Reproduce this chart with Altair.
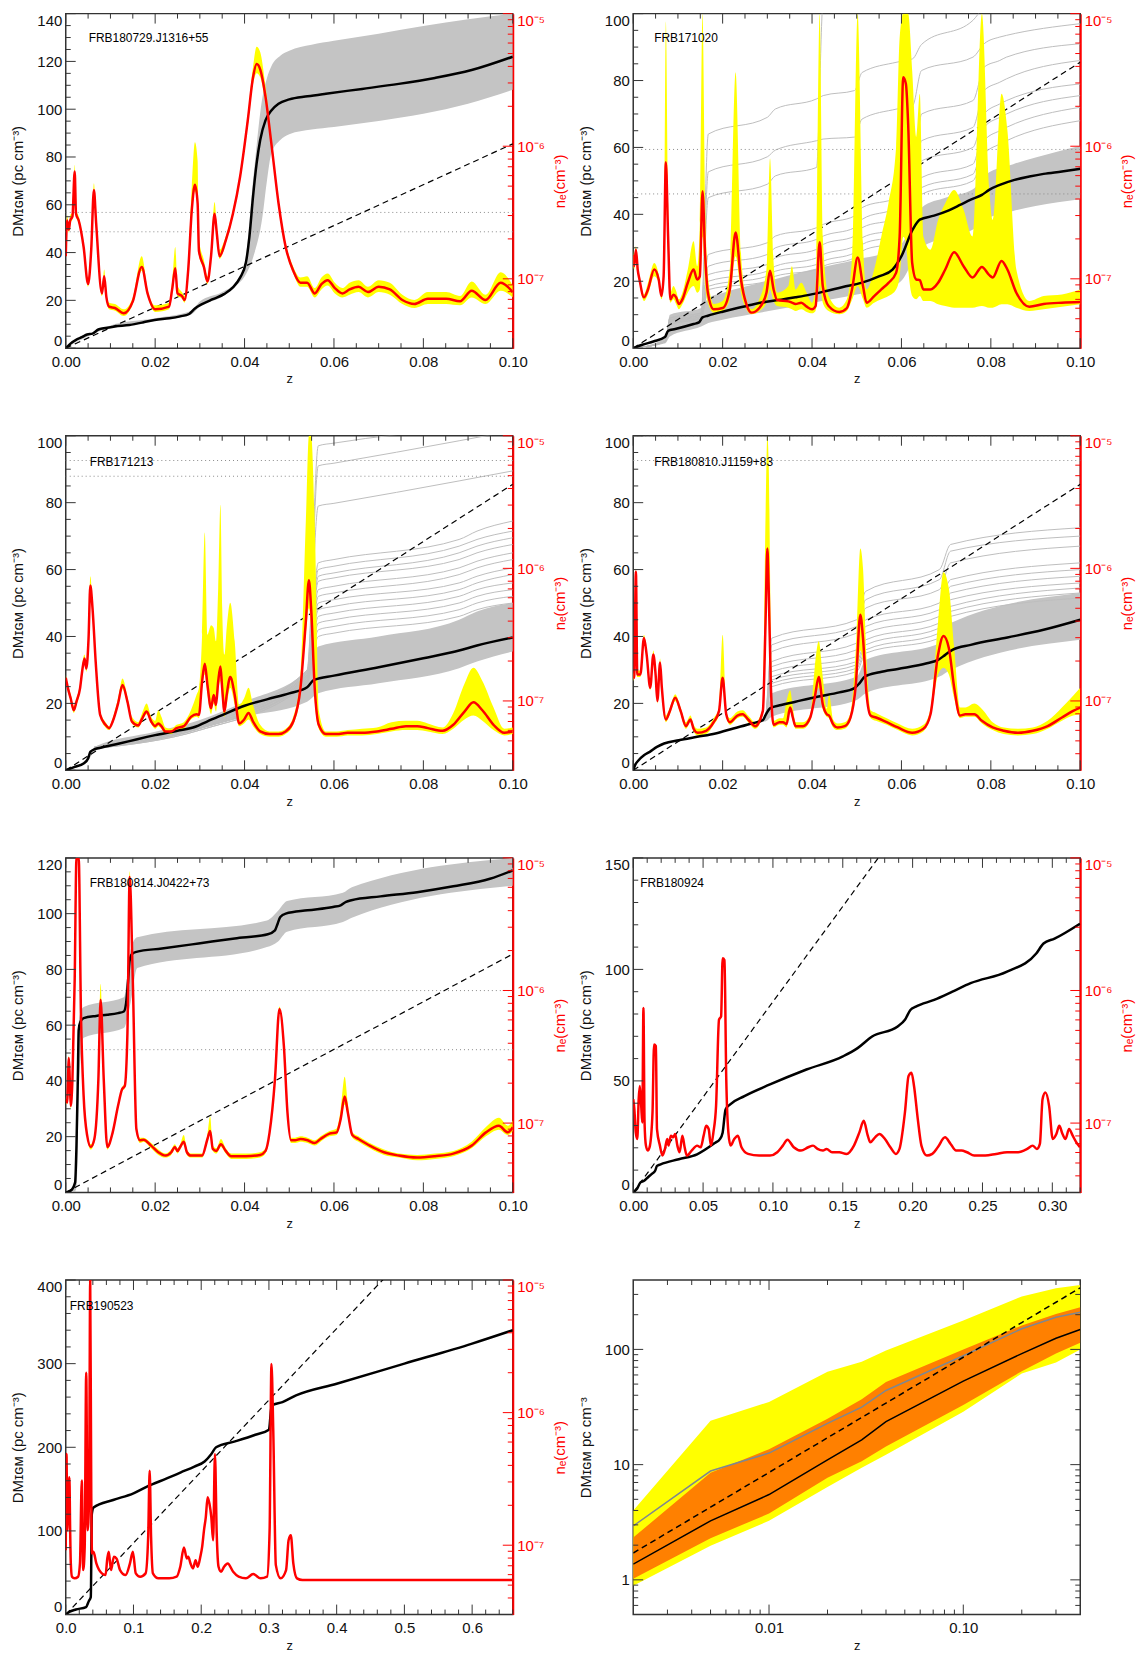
import altair as alt
import numpy as np
import pandas as pd

FONT = "Liberation Sans"
W, H = 449, 336
HGAP, VGAP = 121, 88
FRAME = "#333333"
RED = "#ff0000"
YELLOW = "#ffff00"
ORANGE = "#ff8000"
BAND = "#c4c4c4"
GLINE = "#bdbdbd"
TMAJ, TMIN = 10, 5
SMOOTH = "monotone"

DM_TITLE = "DMɪɢᴍ  (pc  cm⁻³)"
DM_TITLE8 = "DMɪɢᴍ  pc  cm⁻³"
NE_TITLE = "nₑ(cm⁻³)"
NE_LABEL = "datum.value < 5e-7 ? '10⁻⁷' : (datum.value < 5e-6 ? '10⁻⁶' : '10⁻⁵')"
NE_DOMAIN = [3e-8, 1e-5]
NE_MAJOR = [1e-7, 1e-6, 1e-5]
NE_MINOR = [4e-8, 5e-8, 6e-8, 7e-8, 8e-8, 9e-8, 2e-7, 3e-7, 4e-7, 5e-7, 6e-7, 7e-7,
            8e-7, 9e-7, 2e-6, 3e-6, 4e-6, 5e-6, 6e-6, 7e-6, 8e-6, 9e-6]
DM_SLOPE = 855.0  # dashed reference relation DM = 855 z

# ---------------- FRB180729.J1316+55 ----------------
p1_z = [0, 0.0003, 0.0007, 0.001, 0.0015, 0.002, 0.0023, 0.0029, 0.004, 0.005, 0.0057, 0.0063, 0.0068,
        0.0081, 0.0086, 0.0091, 0.0097, 0.011, 0.013, 0.015, 0.017, 0.0183, 0.020, 0.0231, 0.0238, 0.0245,
        0.025, 0.026, 0.0266, 0.0274, 0.0282, 0.0289, 0.0295, 0.0298, 0.0309, 0.0317, 0.0325, 0.0333, 0.0338,
        0.0344, 0.0358, 0.0374, 0.039, 0.0407, 0.0419, 0.0427, 0.0435, 0.0447, 0.046, 0.0476, 0.0492, 0.0509,
        0.0525, 0.054, 0.0557, 0.0572, 0.0586, 0.0602, 0.0619, 0.0635, 0.0655, 0.0676, 0.070, 0.0725, 0.0753,
        0.078, 0.081, 0.0851, 0.0882, 0.0908, 0.0939, 0.0973, 0.1]
p1_red = [-6.83, -6.56, -6.63, -6.56, -6.53, -6.19, -6.51, -6.56, -6.76, -7.04, -6.78, -6.33, -6.58, -7.11,
          -6.98, -7.14, -7.21, -7.22, -7.26, -7.17, -6.91, -7.11, -7.23, -7.21, -7.08, -6.92, -7.11, -7.13,
          -7.16, -6.93, -6.48, -6.29, -6.43, -6.79, -6.91, -7.02, -6.83, -6.51, -6.66, -6.83, -6.71, -6.51,
          -6.23, -5.81, -5.48, -5.38, -5.42, -5.63, -5.98, -6.43, -6.76, -6.94, -7.03, -7.03, -7.11, -7.04,
          -7.01, -7.07, -7.11, -7.08, -7.06, -7.10, -7.06, -7.08, -7.16, -7.19, -7.15, -7.15, -7.17, -7.09,
          -7.16, -7.03, -7.10]
p1_yhi = [-6.80, -6.52, -6.60, -6.52, -6.50, -6.14, -6.48, -6.53, -6.73, -7.01, -6.75, -6.28, -6.55, -7.08,
          -6.93, -7.11, -7.18, -7.19, -7.23, -7.14, -6.83, -7.08, -7.20, -7.18, -7.02, -6.76, -7.05, -7.10,
          -7.13, -6.88, -6.30, -5.97, -6.11, -6.70, -6.86, -6.98, -6.78, -6.42, -6.60, -6.78, -6.68, -6.48,
          -6.20, -5.77, -5.40, -5.25, -5.29, -5.55, -5.93, -6.40, -6.73, -6.91, -6.99, -6.98, -7.07, -6.99,
          -6.96, -7.03, -7.07, -7.03, -7.01, -7.06, -7.01, -7.03, -7.12, -7.16, -7.10, -7.10, -7.13, -7.02,
          -7.12, -6.95, -7.05]
p1_ylo = [-6.85, -6.58, -6.65, -6.58, -6.55, -6.22, -6.53, -6.58, -6.78, -7.06, -6.80, -6.36, -6.60, -7.13,
          -7.00, -7.16, -7.23, -7.24, -7.28, -7.19, -6.94, -7.13, -7.25, -7.23, -7.10, -6.95, -7.13, -7.15,
          -7.18, -6.95, -6.52, -6.34, -6.47, -6.82, -6.93, -7.04, -6.85, -6.55, -6.69, -6.85, -6.73, -6.53,
          -6.26, -5.85, -5.53, -5.45, -5.48, -5.68, -6.02, -6.46, -6.78, -6.96, -7.06, -7.06, -7.14, -7.08,
          -7.05, -7.11, -7.14, -7.12, -7.10, -7.14, -7.10, -7.12, -7.19, -7.22, -7.19, -7.19, -7.20, -7.14,
          -7.19, -7.09, -7.14]
p1_bz = [0, 0.001, 0.0024, 0.0036, 0.0048, 0.006, 0.0073, 0.0085, 0.011, 0.0142, 0.0174, 0.0199, 0.0232,
         0.0256, 0.0276, 0.0289, 0.0305, 0.0329, 0.0354, 0.0374, 0.039, 0.0403, 0.0411, 0.0419, 0.0427, 0.0435,
         0.0447, 0.046, 0.0476, 0.05, 0.0541, 0.0582, 0.0663, 0.0745, 0.0826, 0.0908, 0.1]
p1_bdm = [0, 1.8, 3.6, 4.6, 5.7, 6.1, 7.8, 8.3, 9.1, 9.7, 10.8, 11.8, 12.5, 13.3, 14.3, 16.6, 18.4, 20.5,
          22.6, 25.4, 29.5, 35.8, 46.9, 63.5, 77.3, 87.1, 95.4, 99.5, 102.3, 104.1, 105.4, 106.5, 108.5, 110.6,
          113.1, 116.4, 122.0]
p1_gz = [0, 0.01, 0.02, 0.028, 0.03, 0.035, 0.038, 0.04, 0.042, 0.044, 0.045, 0.046, 0.048, 0.05, 0.055,
         0.06, 0.07, 0.08, 0.09, 0.1]
p1_glo = [0, 8.7, 11.5, 14, 17.5, 21.5, 26, 30, 38.5, 55, 70, 81.5, 87.1, 89.5, 91.5, 92.6, 95.1, 98.1,
          102.3, 108.1]
p1_ghi = [0, 9.5, 12.5, 15.5, 19.5, 23.5, 27.5, 35, 72, 105, 113, 118, 122.4, 124.5, 127, 128.6, 131.6,
          134.8, 137.6, 140]
p1_dotted = [56.8, 48.7]

# ---------------- FRB171020 ----------------
p2_z = [0, 0.0002, 0.0006, 0.001, 0.0014, 0.0024, 0.0033, 0.0047, 0.0057, 0.0063, 0.0068, 0.0073, 0.0078,
        0.0083, 0.009, 0.0096, 0.0102, 0.011, 0.0122, 0.0135, 0.0143, 0.0149, 0.0155, 0.0161, 0.0167, 0.018,
        0.02, 0.0216, 0.0229, 0.0241, 0.0253, 0.0265, 0.0282, 0.0298, 0.0306, 0.0314, 0.0322, 0.0347, 0.0355,
        0.0363, 0.0376, 0.0388, 0.04, 0.0408, 0.0417, 0.0424, 0.0437, 0.0461, 0.0478, 0.049, 0.0502, 0.0514,
        0.0522, 0.0539, 0.0555, 0.0571, 0.0588, 0.0596, 0.0604, 0.061, 0.0615, 0.0624, 0.0633, 0.0641, 0.0649,
        0.0665, 0.0682, 0.0698, 0.0718, 0.0739, 0.0759, 0.078, 0.0796, 0.0804, 0.0824, 0.0837, 0.0857, 0.0886,
        0.0918, 0.0959, 0.1]
p2_red = [-6.82, -6.905, -6.78, -6.93, -7.005, -7.14, -7.08, -6.93, -7.005, -7.13,
          -6.98, -6.12, -6.68, -7.155, -7.12, -7.14, -7.19, -7.155, -7.03, -6.93,
          -7.005, -6.98, -6.34, -6.83, -7.105, -7.23, -7.22, -7.08, -6.65, -7.005,
          -7.19, -7.255, -7.22, -7.105, -6.94, -7.08, -7.16, -7.17, -7.18, -7.19,
          -7.18, -7.21, -7.23, -7.205, -6.725, -7.055, -7.205, -7.25, -7.22, -7.07,
          -6.84, -7.055, -7.18, -7.13, -7.08, -7.03, -6.955, -6.68, -5.48, -5.53,
          -5.83, -6.88, -7.005, -7.01, -7.08, -7.08, -7.03, -6.93, -6.80, -6.905,
          -6.99, -6.91, -6.97, -6.99, -6.865, -6.93, -7.105, -7.21, -7.19, -7.18, -7.175]
p2_yhi = [-6.78, -6.83, -6.755, -6.905, -6.98, -7.1175, -7.03, -6.88, -6.9675, -7.0925,
          -6.93, -5.06, -6.43, -7.105, -7.055, -7.0925, -7.155, -7.105, -6.93, -6.7175,
          -6.905, -6.58, -5.0, -6.43, -6.98, -7.19, -7.1675, -6.93, -5.4425, -6.805,
          -7.155, -7.23, -7.155, -6.93, -6.0925, -6.88, -7.105, -7.055, -6.905, -7.08,
          -7.03, -7.105, -7.18, -7.055, -5.0, -6.68, -7.13, -7.2175, -7.155, -6.805,
          -5.0, -6.73, -7.08, -6.93, -6.68, -6.43, -6.005, -5.18, -5.0, -5.0,
          -5.0, -5.43, -5.93, -5.605, -6.68, -6.78, -6.555, -6.43, -6.33, -6.48,
          -6.68, -5.0, -6.305, -6.555, -5.605, -5.88, -6.93, -7.1675, -7.13, -7.1175, -7.08]
p2_ylo = [-6.905, -6.93, -6.83, -6.955, -7.03, -7.1675, -7.1175, -6.98, -7.03, -7.155,
          -7.03, -6.33, -6.805, -7.18, -7.155, -7.1925, -7.23, -7.1925, -7.105, -7.055,
          -7.105, -7.08, -6.68, -7.055, -7.18, -7.255, -7.2425, -7.155, -6.83, -7.105,
          -7.23, -7.2675, -7.2425, -7.18, -7.08, -7.1675, -7.205, -7.2175, -7.23, -7.2425,
          -7.23, -7.25, -7.26, -7.2425, -7.055, -7.18, -7.2425, -7.2675, -7.2425, -7.155,
          -7.055, -7.155, -7.2175, -7.18, -7.155, -7.13, -7.08, -6.98, -6.68, -6.73,
          -6.93, -7.13, -7.155, -7.13, -7.1675, -7.1675, -7.1925, -7.205, -7.2175, -7.2175,
          -7.2175, -7.205, -7.2175, -7.2175, -7.1925, -7.1925, -7.2175, -7.2425, -7.23, -7.21, -7.1925]
p2_bz = [0, 0.002, 0.0045, 0.0071, 0.0078, 0.0094, 0.0135, 0.0147, 0.0155, 0.0167, 0.02, 0.0233, 0.0265,
         0.0298, 0.0331, 0.0363, 0.0396, 0.0429, 0.0469, 0.051, 0.0551, 0.058, 0.06, 0.0625, 0.0641, 0.0673,
         0.0706, 0.0731, 0.0755, 0.078, 0.0796, 0.082, 0.0853, 0.0886, 0.0918, 0.0959, 0.1]
p2_bdm = [0, 1.0, 2.0, 3.3, 5.2, 5.7, 7.2, 7.7, 9.2, 9.7, 10.9, 12.0, 13.0, 13.9, 14.5, 15.2, 16.0, 17.0,
          18.3, 19.5, 21.5, 23.5, 27.5, 35.4, 38.4, 39.6, 41.2, 42.8, 44.4, 45.8, 47.3, 48.8, 50.3, 51.3, 52.1,
          52.8, 53.6]
p2_gz = [0, 0.0072, 0.0082, 0.0152, 0.0168, 0.02, 0.03, 0.04, 0.05, 0.058, 0.0605, 0.0625, 0.0645, 0.07,
         0.076, 0.079, 0.085, 0.09, 0.1]
p2_glo = [0, 1.5, 3.5, 6.5, 7.5, 8.5, 11, 13.5, 16, 18.5, 21, 26, 30, 33, 35.5, 38.5, 41, 42.5, 44.5]
p2_ghi = [0, 3, 10, 12, 15, 16.5, 20, 23.5, 26.5, 29.5, 32, 38, 42, 45, 47.5, 52, 55, 57, 60.5]
p2_lz = [0, 0.0072, 0.0082, 0.0152, 0.0168, 0.030, 0.0318, 0.041, 0.0425, 0.0495, 0.0512, 0.059, 0.0625,
         0.0645, 0.076, 0.0785, 0.082, 0.0835, 0.1]
p2_lines = [
    [0, 2, 9, 10.5, 64, 69, 71.5, 74.5, 75.5, 77, 82.4, 85.5, 86.5, 90.8, 98, 102, 104, 105, 110],
    [0, 2, 9, 10.5, 45, 49, 51.5, 54, 104, 106, 108, 110, 112, 114, 116, 118, 120, 122, 125],
    [0, 2, 8.5, 10, 52.7, 57.2, 59.2, 62, 62.5, 63.1, 68.5, 71.5, 72.5, 83, 87, 91, 93, 93.5, 97],
    [0, 2, 8, 10, 28, 31.5, 33.5, 36, 37, 39.5, 42, 45, 48, 70, 74, 84, 86, 87, 91],
    [0, 2, 8, 9.5, 24.5, 28, 30, 32.5, 33.5, 36, 38.5, 42, 45.5, 62, 66, 77, 79.5, 80.5, 86],
    [0, 2, 7.5, 9.5, 22, 25, 27, 29.5, 31, 33.5, 36, 39, 43, 56, 60, 70, 73, 74, 79],
    [0, 2, 7.5, 9, 20, 23, 24.5, 27, 28, 30.5, 33, 36, 41, 51, 55, 66, 69, 70, 75.5],
    [0, 2, 7, 9, 18.5, 21.5, 23, 25, 26, 28.5, 31, 34, 39, 48, 52, 62, 65, 66, 72],
    [0, 2, 7, 9, 17.5, 20, 21.5, 23.5, 24.5, 27, 29, 32, 37.5, 46, 50, 58, 61, 62, 68],
]
p2_dotted = [59.4, 46.1]

# ---------------- FRB171213 ----------------
p3_z = [0, 0.0005, 0.0011, 0.0018, 0.0024, 0.0032, 0.0037, 0.0042, 0.0046, 0.0051, 0.0055, 0.006, 0.0067,
        0.0077, 0.0089, 0.0097, 0.0105, 0.0117, 0.0127, 0.0138, 0.0148, 0.0162, 0.017, 0.0181, 0.0191, 0.02,
        0.0207, 0.0214, 0.0223, 0.0236, 0.0248, 0.0264, 0.028, 0.0293, 0.0298, 0.0305, 0.0311, 0.0317, 0.0325,
        0.0331, 0.0336, 0.0341, 0.0346, 0.035, 0.0355, 0.036, 0.0368, 0.0378, 0.0388, 0.0399, 0.0409, 0.0419,
        0.0435, 0.0456, 0.0476, 0.0492, 0.0509, 0.0525, 0.0537, 0.0544, 0.0549, 0.0557, 0.0566, 0.0582, 0.0606,
        0.0631, 0.0663, 0.0696, 0.0729, 0.0761, 0.0786, 0.081, 0.0843, 0.0867, 0.0892, 0.0912, 0.0932, 0.0957,
        0.0981, 0.1]
p3_red = [-6.825, -6.905, -6.98, -7.07, -7.005, -6.905, -6.77, -6.68, -6.755, -6.53,
          -6.13, -6.305, -6.705, -7.105, -7.18, -7.205, -7.155, -7.02, -6.88, -7.005,
          -7.155, -7.185, -7.14, -7.08, -7.155, -7.19, -7.17, -7.19, -7.23, -7.23,
          -7.205, -7.19, -7.12, -7.10, -7.105, -6.855, -6.72, -6.88, -7.055, -6.955,
          -7.03, -6.855, -6.74, -6.905, -7.08, -6.955, -6.82, -6.955, -7.17, -7.14,
          -7.09, -7.155, -7.23, -7.25, -7.25, -7.23, -7.155, -6.905, -6.405, -6.09,
          -6.305, -6.905, -7.18, -7.25, -7.25, -7.24, -7.24, -7.23, -7.21, -7.19,
          -7.19, -7.205, -7.225, -7.18, -7.08, -7.01, -7.07, -7.18, -7.24, -7.23]
p3_yhi = [-6.80, -6.88, -6.95, -7.04, -6.98, -6.87, -6.72, -6.65, -6.72, -6.49,
          -6.06, -6.26, -6.67, -7.08, -7.16, -7.19, -7.13, -6.98, -6.83, -6.97,
          -7.12, -7.16, -7.10, -7.02, -7.12, -7.15, -7.07, -7.12, -7.20, -7.21,
          -7.18, -7.16, -7.07, -6.95, -6.90, -6.50, -5.73, -6.50, -6.43, -6.45,
          -6.55, -6.15, -5.52, -6.30, -6.65, -6.45, -6.26, -6.55, -7.03, -6.98,
          -6.90, -7.03, -7.18, -7.23, -7.23, -7.21, -7.12, -6.80, -5.65, -5.0,
          -5.0, -5.65, -7.07, -7.23, -7.23, -7.22, -7.21, -7.20, -7.16, -7.15,
          -7.15, -7.17, -7.20, -7.09, -6.87, -6.75, -6.85, -7.05, -7.21, -7.20]
p3_ylo = [-6.85, -6.93, -7.00, -7.09, -7.03, -6.93, -6.79, -6.70, -6.78, -6.56,
          -6.16, -6.34, -6.73, -7.12, -7.20, -7.22, -7.17, -7.04, -6.91, -7.03,
          -7.17, -7.20, -7.16, -7.10, -7.17, -7.21, -7.19, -7.21, -7.25, -7.25,
          -7.22, -7.21, -7.14, -7.12, -7.13, -6.90, -6.80, -6.95, -7.10, -7.02,
          -7.08, -6.93, -6.85, -7.00, -7.12, -7.03, -6.90, -7.03, -7.19, -7.17,
          -7.14, -7.19, -7.25, -7.27, -7.27, -7.25, -7.18, -6.95, -6.50, -6.30,
          -6.45, -7.00, -7.21, -7.27, -7.27, -7.26, -7.26, -7.25, -7.23, -7.22,
          -7.22, -7.23, -7.25, -7.21, -7.14, -7.11, -7.15, -7.22, -7.26, -7.25]
p3_bz = [0, 0.002, 0.004, 0.005, 0.0055, 0.0065, 0.008, 0.012, 0.016, 0.02, 0.025, 0.029, 0.0315, 0.035,
         0.04, 0.045, 0.05, 0.054, 0.0555, 0.06, 0.07, 0.08, 0.088, 0.092, 0.1]
p3_bdm = [0, 1.0, 2.0, 3.5, 5.5, 6.3, 6.8, 8.0, 9.3, 10.5, 11.8, 13.0, 14.5, 16.5, 19.3, 21.2, 23.0, 24.8,
          27.0, 28.3, 30.8, 33.5, 35.8, 37.3, 39.7]
p3_gz = [0, 0.005, 0.0065, 0.02, 0.03, 0.04, 0.054, 0.0565, 0.07, 0.088, 0.092, 0.1]
p3_glo = [0, 3, 5.8, 10, 12.5, 16, 20.5, 23, 26, 30.5, 32.5, 35.5]
p3_ghi = [0, 4, 7, 11.5, 15, 20.5, 30, 37, 40, 45, 47.5, 50]
p3_lz = [0.0065, 0.03, 0.054, 0.0565, 0.06, 0.088, 0.092, 0.1]
p3_lines = [
    [7, 14, 30, 97, 97.8, 103, 104, 106],
    [7, 14, 29.5, 91, 91.8, 98.5, 99.5, 101.5],
    [7, 13.5, 29, 79, 79.8, 86.5, 87.5, 89.5],
    [7, 13.5, 28.5, 62, 63, 69, 71.5, 74.5],
    [7, 13.5, 28.5, 60, 61, 67, 69, 71.5],
    [7, 13, 28, 58, 59, 65, 67, 69.5],
    [7, 13, 28, 56.5, 57.5, 63, 65, 67.5],
    [7, 13, 27.5, 54, 55, 60.5, 62.5, 65],
    [7, 13, 27.5, 52, 53, 58.5, 60.5, 63],
    [7, 12.5, 27, 50, 51, 56, 58, 60.5],
    [6.5, 12.5, 27, 48, 49, 54, 56, 58.5],
    [6.5, 12.5, 26.5, 46, 47, 52, 54, 56],
    [6.5, 12.5, 26.5, 44, 45, 50, 52, 54],
    [6.5, 12, 26, 42, 43, 48, 50, 52],
    [6.5, 12, 26, 40, 41, 46, 48, 50],
]
p3_dotted = [92.6, 87.9]

# ---------------- FRB180810.J1159+83 ----------------
p4_z = [0, 0.0002, 0.0006, 0.0009, 0.0016, 0.0024, 0.003, 0.0038, 0.0045, 0.005, 0.0054, 0.006, 0.0064,
        0.0073, 0.0082, 0.0094, 0.0106, 0.0118, 0.0128, 0.0135, 0.0144, 0.0163, 0.018, 0.0192, 0.02, 0.0208,
        0.0216, 0.0233, 0.0245, 0.0257, 0.0273, 0.029, 0.0296, 0.03, 0.0303, 0.0308, 0.0314, 0.0327, 0.0335,
        0.0343, 0.0351, 0.0357, 0.0363, 0.038, 0.0396, 0.0406, 0.0415, 0.0424, 0.0433, 0.0438, 0.0447, 0.0457,
        0.0473, 0.0486, 0.0498, 0.0508, 0.0514, 0.0522, 0.0531, 0.0543, 0.0567, 0.0592, 0.0624, 0.0649, 0.0665,
        0.0682, 0.0694, 0.0706, 0.0718, 0.0731, 0.0743, 0.0763, 0.078, 0.0804, 0.0829, 0.0861, 0.0894, 0.0927,
        0.0959, 0.0984, 0.1]
p4_red = [-6.81, -6.825, -6.025, -6.80, -6.80, -6.525, -6.65, -6.90, -6.65, -6.80,
          -7.00, -6.71, -6.90, -7.14, -7.075, -6.975, -7.075, -7.19, -7.14, -7.21,
          -7.24, -7.225, -7.16, -7.075, -6.825, -7.10, -7.16, -7.11, -7.10, -7.14,
          -7.19, -7.075, -6.40, -5.85, -6.15, -6.90, -7.18, -7.16, -7.16, -7.175,
          -7.05, -7.125, -7.19, -7.19, -7.125, -6.975, -6.82, -7.025, -7.10, -7.11,
          -7.175, -7.20, -7.19, -7.125, -6.875, -6.35, -6.525, -6.95, -7.11, -7.125,
          -7.16, -7.20, -7.24, -7.21, -7.10, -6.65, -6.51, -6.60, -6.90, -7.11,
          -7.10, -7.10, -7.15, -7.20, -7.225, -7.24, -7.225, -7.19, -7.125, -7.075, -7.05]
p4_yhi = [-6.78, -6.80, -6.00, -6.77, -6.77, -6.50, -6.62, -6.87, -6.62, -6.77,
          -6.97, -6.68, -6.87, -7.11, -7.05, -6.95, -7.05, -7.16, -7.11, -7.18,
          -7.21, -7.20, -7.13, -7.05, -6.50, -7.07, -7.13, -7.08, -7.07, -7.11,
          -7.16, -7.05, -5.60, -5.00, -5.20, -6.55, -7.15, -7.13, -7.13, -7.00,
          -6.92, -7.05, -7.16, -7.16, -7.10, -6.75, -6.55, -6.82, -7.06, -6.95,
          -7.14, -7.17, -7.16, -7.09, -6.60, -5.85, -6.00, -6.70, -7.07, -7.09,
          -7.13, -7.17, -7.21, -7.18, -7.06, -6.40, -6.03, -6.15, -6.60, -7.05,
          -7.05, -7.02, -7.06, -7.16, -7.20, -7.21, -7.20, -7.15, -7.05, -6.96, -6.90]
p4_ylo = [-6.83, -6.85, -6.05, -6.82, -6.82, -6.55, -6.67, -6.92, -6.67, -6.82,
          -7.02, -6.73, -6.92, -7.16, -7.10, -7.00, -7.10, -7.21, -7.16, -7.23,
          -7.26, -7.25, -7.18, -7.10, -6.85, -7.12, -7.18, -7.13, -7.12, -7.16,
          -7.21, -7.10, -6.50, -6.05, -6.30, -6.95, -7.20, -7.18, -7.18, -7.20,
          -7.08, -7.15, -7.21, -7.21, -7.15, -7.00, -6.90, -7.06, -7.12, -7.13,
          -7.20, -7.22, -7.21, -7.15, -6.92, -6.62, -6.70, -6.98, -7.13, -7.15,
          -7.18, -7.22, -7.26, -7.23, -7.12, -6.80, -6.75, -6.80, -6.98, -7.13,
          -7.12, -7.12, -7.17, -7.22, -7.25, -7.26, -7.25, -7.21, -7.15, -7.11, -7.10]
p4_bz = [0, 0.0004, 0.0012, 0.0024, 0.0037, 0.0053, 0.0069, 0.0102, 0.0143, 0.0184, 0.0224, 0.0265, 0.029,
         0.0296, 0.0306, 0.0331, 0.0363, 0.0412, 0.0461, 0.0494, 0.0506, 0.0518, 0.0551, 0.0592, 0.0657,
         0.0682, 0.0698, 0.0714, 0.0755, 0.0837, 0.0918, 0.1]
p4_bdm = [0, 1.5, 3, 4.5, 5.5, 7, 8, 9, 10, 11, 12.5, 14, 15, 16.5, 18.5, 19.5, 20.5, 22, 23.3, 24.5, 26,
          28, 29.3, 30.3, 32, 33, 34.5, 36, 37.5, 39.7, 42, 45]
p4_gz = [0.0285, 0.0295, 0.031, 0.05, 0.052, 0.0685, 0.071, 0.1]
p4_glo = [14.6, 14.6, 16, 21, 23, 28, 30, 39]
p4_ghi = [15.2, 15.5, 23, 28, 33, 38, 44, 53]
p4_lz = [0.0285, 0.0295, 0.031, 0.05, 0.052, 0.0685, 0.071, 0.1]
p4_lines = [
    [15, 15.5, 39.5, 45, 53.5, 60, 67.5, 72.5],
    [15, 15.5, 37.5, 43, 51, 57, 65.5, 70],
    [15, 15.5, 35.5, 41, 48.5, 54, 62, 67],
    [15, 15.5, 32.5, 38, 45, 50, 57, 62],
    [15, 15.5, 31, 36, 43, 48, 55, 60],
    [15, 15.3, 29.5, 34, 41, 46, 53, 58],
    [15, 15.3, 28, 32.5, 39, 44, 51, 56],
    [15, 15.3, 27, 31.5, 37.5, 42.5, 49, 54.5],
    [15, 15.3, 26, 30.5, 36, 41, 47.5, 53],
    [15, 15.3, 25, 29.5, 35, 39.5, 46, 51.5],
]
p4_dotted = [99.8, 92.6]

# ---------------- FRB180814.J0422+73 ----------------
p5_z = [0, 0.0003, 0.0007, 0.0009, 0.0011, 0.0015, 0.002, 0.0024, 0.0029, 0.0034, 0.004, 0.0048, 0.0056,
        0.0064, 0.0073, 0.0078, 0.0085, 0.0093, 0.0105, 0.0117, 0.0126, 0.0132, 0.0138, 0.0143, 0.015, 0.0158,
        0.0166, 0.0174, 0.0191, 0.0207, 0.0223, 0.0236, 0.0244, 0.025, 0.0256, 0.0264, 0.0271, 0.028, 0.0305,
        0.0317, 0.0323, 0.0329, 0.0337, 0.0347, 0.0358, 0.037, 0.0403, 0.0435, 0.0447, 0.0456, 0.0468, 0.0478,
        0.0488, 0.0496, 0.0504, 0.0513, 0.0525, 0.0541, 0.0557, 0.057, 0.059, 0.0606, 0.0615, 0.0624, 0.0631,
        0.0641, 0.0655, 0.068, 0.0712, 0.0745, 0.0786, 0.0826, 0.0867, 0.0908, 0.094, 0.0969, 0.0989, 0.1]
p5_red = [-6.82, -6.845, -6.51, -6.67, -6.87, -6.67, -5.92, -5.0, -5.0, -6.17,
          -6.795, -7.095, -7.18, -7.12, -6.67, -6.07, -6.67, -7.18, -7.07, -6.87,
          -6.745, -6.72, -6.32, -5.145, -5.92, -7.045, -7.13, -7.125, -7.17, -7.22,
          -7.245, -7.22, -7.18, -7.21, -7.18, -7.14, -7.22, -7.245, -7.245, -7.12,
          -7.06, -7.195, -7.21, -7.16, -7.21, -7.25, -7.25, -7.24, -7.21, -7.07,
          -6.67, -6.14, -6.42, -6.92, -7.13, -7.13, -7.12, -7.13, -7.15, -7.12,
          -7.08, -7.07, -6.97, -6.80, -6.92, -7.09, -7.12, -7.17, -7.22, -7.245,
          -7.26, -7.25, -7.23, -7.17, -7.07, -7.02, -7.07, -7.03]
p5_yhi = [-6.80, -6.83, -6.49, -6.65, -6.85, -6.65, -5.90, -5.0, -5.0, -6.15,
          -6.78, -7.08, -7.16, -7.10, -6.65, -5.95, -6.65, -7.16, -7.05, -6.85,
          -6.73, -6.70, -6.30, -5.10, -5.90, -7.03, -7.11, -7.11, -7.15, -7.20,
          -7.23, -7.20, -7.16, -7.19, -7.16, -7.09, -7.20, -7.23, -7.23, -7.08,
          -6.95, -7.17, -7.19, -7.12, -7.19, -7.23, -7.23, -7.22, -7.19, -7.05,
          -6.65, -6.12, -6.40, -6.90, -7.11, -7.11, -7.10, -7.11, -7.13, -7.10,
          -7.06, -7.04, -6.90, -6.65, -6.85, -7.07, -7.10, -7.15, -7.20, -7.23,
          -7.24, -7.23, -7.21, -7.14, -7.03, -6.96, -7.02, -6.98]
p5_ylo = [-6.84, -6.86, -6.53, -6.69, -6.89, -6.69, -5.94, -5.02, -5.02, -6.19,
          -6.81, -7.11, -7.20, -7.14, -6.69, -6.09, -6.69, -7.20, -7.09, -6.89,
          -6.76, -6.74, -6.34, -5.16, -5.94, -7.06, -7.15, -7.14, -7.19, -7.24,
          -7.26, -7.24, -7.20, -7.23, -7.20, -7.16, -7.24, -7.26, -7.26, -7.14,
          -7.08, -7.21, -7.23, -7.18, -7.23, -7.27, -7.27, -7.26, -7.23, -7.09,
          -6.69, -6.16, -6.44, -6.94, -7.15, -7.15, -7.14, -7.15, -7.17, -7.14,
          -7.10, -7.09, -7.00, -6.86, -6.95, -7.11, -7.14, -7.19, -7.24, -7.26,
          -7.28, -7.27, -7.25, -7.19, -7.10, -7.05, -7.09, -7.06]
p5_bz = [0, 0.0011, 0.0021, 0.0024, 0.0027, 0.0029, 0.0033, 0.004, 0.0068, 0.0093, 0.0117, 0.013, 0.0135,
         0.0139, 0.0143, 0.0148, 0.0158, 0.0215, 0.0297, 0.0378, 0.0452, 0.0468, 0.0474, 0.048, 0.0492,
         0.0541, 0.0598, 0.0615, 0.0627, 0.0639, 0.0704, 0.0786, 0.0867, 0.0949, 0.1]
p5_bdm = [0, 0.6, 3.6, 16.7, 40.5, 58.3, 61.3, 62.5, 63.3, 63.7, 64.3, 64.9, 67.9, 75, 83.3, 85.5, 86.3,
          87.5, 89.3, 91.1, 92.6, 94, 96.4, 98.8, 100, 101.2, 102.4, 103, 104.2, 104.8, 106.2, 107.7, 109.8,
          112.5, 115.5]
p5_gz = [0, 0.0021, 0.0025, 0.003, 0.004, 0.013, 0.0145, 0.016, 0.045, 0.0475, 0.0495, 0.062, 0.064, 0.1]
p5_glo = [0, 0.5, 3, 40, 55.5, 59, 68, 80.5, 88, 90, 93.5, 97, 98.5, 110]
p5_ghi = [0, 3, 25, 62.5, 66.5, 70, 87, 91.5, 97.5, 101, 104.5, 107.5, 109.5, 120]
p5_dotted = [72.4, 51.2]

# ---------------- FRB180924 ----------------
p6_z = [0, 0.0008, 0.0018, 0.0029, 0.0039, 0.0047, 0.0057, 0.0065, 0.0073, 0.0081, 0.0091, 0.0104, 0.0117,
        0.0138, 0.0149, 0.0162, 0.017, 0.0191, 0.0209, 0.0227, 0.0243, 0.0253, 0.0269, 0.0287, 0.03, 0.0316,
        0.0332, 0.0352, 0.0368, 0.0384, 0.0418, 0.0457, 0.0483, 0.0504, 0.0522, 0.054, 0.0556, 0.0574, 0.0593,
        0.0614, 0.0629, 0.064, 0.0653, 0.0666, 0.0681, 0.0697, 0.0723, 0.0749, 0.0775, 0.0822, 0.0901, 0.0979,
        0.1031, 0.1071, 0.1104, 0.1149, 0.1201, 0.1253, 0.1287, 0.1319, 0.1358, 0.1384, 0.1423, 0.1475,
        0.1527, 0.158, 0.1619, 0.165, 0.1679, 0.1697, 0.1731, 0.1762, 0.1802, 0.1841, 0.188, 0.1906, 0.1945,
        0.1971, 0.1992, 0.201, 0.2037, 0.2063, 0.2102, 0.2141, 0.218, 0.2232, 0.2272, 0.2311, 0.235, 0.2389,
        0.2441, 0.252, 0.2598, 0.2676, 0.2755, 0.282, 0.2859, 0.289, 0.2911, 0.293, 0.295, 0.2977, 0.3003,
        0.3029, 0.305, 0.3073, 0.3094, 0.312, 0.3146, 0.3172, 0.3198]
p6_red = [-6.82, -6.895, -7.07, -7.12, -6.82, -6.72, -6.87, -6.995, -6.1325, -6.995,
          -7.17, -7.2075, -7.1825, -6.92, -6.4075, -6.42, -7.045, -7.17, -7.245, -7.195,
          -7.12, -7.17, -7.095, -7.1075, -7.0825, -7.17, -7.22, -7.095, -7.1825, -7.245,
          -7.2075, -7.17, -7.1825, -7.095, -7.02, -7.045, -7.17, -7.07, -6.87, -6.22,
          -6.195, -5.7575, -5.77, -6.67, -7.07, -7.17, -7.12, -7.095, -7.1825, -7.2325,
          -7.245, -7.245, -7.22, -7.17, -7.125, -7.1825, -7.2075, -7.1825, -7.17, -7.195,
          -7.2075, -7.195, -7.22, -7.22, -7.2325, -7.17, -7.07, -6.9825, -7.095, -7.145,
          -7.1075, -7.0825, -7.12, -7.1825, -7.2325, -7.195, -6.92, -6.645, -6.62, -6.72,
          -6.97, -7.17, -7.245, -7.2325, -7.1825, -7.1075, -7.1575, -7.2075, -7.2075, -7.22,
          -7.245, -7.245, -7.2325, -7.22, -7.22, -7.195, -7.17, -7.195, -7.1575, -6.82,
          -6.77, -6.87, -7.12, -7.0825, -7.02, -7.0825, -7.12, -7.045, -7.095, -7.145, -7.1825]
p6_bz = [0, 0.0026, 0.0052, 0.0078, 0.0104, 0.0131, 0.0157, 0.017, 0.0196, 0.0326, 0.0457, 0.0587, 0.0619,
         0.064, 0.0661, 0.0692, 0.0796, 0.0979, 0.124, 0.1501, 0.1606, 0.171, 0.1893, 0.1945, 0.1984, 0.2023,
         0.2154, 0.2285, 0.2415, 0.2676, 0.2885, 0.2937, 0.3016, 0.3198]
p6_bdm = [0, 1.5, 4.5, 5.2, 6.7, 8.2, 9.7, 11.9, 12.6, 14.9, 17.1, 22.3, 23.8, 26.8, 37.2, 39.4, 43.2, 48.4,
          55.1, 61.0, 64.7, 69.9, 74.4, 77.4, 81.8, 83.3, 86.3, 90, 93.8, 99, 107.1, 111.6, 113.8, 120.5]

# ---------------- FRB190523 ----------------
p7_z = [0, 0.0011, 0.0022, 0.0038, 0.0054, 0.0065, 0.0075, 0.0092, 0.0129, 0.0183, 0.021, 0.0237, 0.0258,
        0.028, 0.0302, 0.0323, 0.0345, 0.0361, 0.0377, 0.0388, 0.0409, 0.0452, 0.0533, 0.0587, 0.0614, 0.0635,
        0.0668, 0.0711, 0.0749, 0.0802, 0.0883, 0.0948, 0.0991, 0.1034, 0.1099, 0.1179, 0.1217, 0.1239, 0.126,
        0.1287, 0.1368, 0.1529, 0.1637, 0.1691, 0.1745, 0.1788, 0.1809, 0.1842, 0.1879, 0.1917, 0.1949,
        0.1987, 0.2014, 0.2041, 0.2068, 0.2095, 0.2122, 0.2149, 0.2176, 0.2203, 0.2229, 0.2256, 0.2294,
        0.2337, 0.2391, 0.2472, 0.2553, 0.266, 0.2768, 0.2876, 0.2973, 0.301, 0.3037, 0.3064, 0.3102, 0.3172,
        0.3253, 0.329, 0.3323, 0.336, 0.3414, 0.3495, 0.66]
p7_red = [-7.0375, -6.3125, -6.8875, -6.6375, -6.4875, -6.8875, -7.1375, -7.2375, -7.25, -7.2375,
          -7.1375, -6.5125, -7.1875, -7.0125, -5.70, -6.8875, -6.6375, -5.0, -6.6375, -7.0625,
          -7.05, -7.1375, -7.2125, -7.225, -7.10, -7.05, -7.1875, -7.0875, -7.10, -7.1875,
          -7.225, -7.1375, -7.05, -7.2125, -7.2375, -7.2125, -6.9375, -6.4375, -6.9375, -7.2125,
          -7.25, -7.25, -7.2375, -7.1625, -7.0175, -7.10, -7.0875, -7.1375, -7.175, -7.1125,
          -7.1625, -7.0875, -7.0125, -6.8875, -6.7875, -6.6375, -6.6875, -6.7875, -6.9625, -6.3125,
          -6.9125, -7.1625, -7.20, -7.1625, -7.1375, -7.20, -7.2375, -7.25, -7.2175, -7.25,
          -7.2375, -6.8875, -5.6325, -6.1375, -7.15, -7.25, -7.1875, -6.9625, -6.925, -7.1375,
          -7.25, -7.2625, -7.2625]
p7_bz = [0, 0.005, 0.015, 0.03, 0.034, 0.037, 0.0385, 0.041, 0.07, 0.1, 0.12, 0.15, 0.17, 0.19, 0.205,
         0.215, 0.222, 0.25, 0.28, 0.3, 0.304, 0.32, 0.34, 0.4, 0.5, 0.6, 0.66]
p7_bdm = [0, 3, 6, 9, 16, 21, 120, 128, 137, 145, 153, 163, 170, 177, 183, 192, 200, 207, 215, 221, 250,
          254, 262, 276, 300, 324, 340]

# ---------------- DM_IGM distribution (log-log) ----------------
p8_z = [0.002, 0.005, 0.01, 0.02, 0.03, 0.04, 0.1, 0.2, 0.3, 0.4]
p8_yel_lo = [0.89, 1.98, 3.25, 6.4, 9.4, 12.2, 28.8, 61.7, 77, 100]
p8_yel_hi = [4.0, 24, 35, 64, 78, 98, 178, 288, 340, 363]
p8_org_lo = [1.02, 2.3, 3.76, 7.7, 10.7, 14.4, 32.9, 64.6, 92, 114]
p8_org_hi = [2.33, 8.5, 13.6, 25, 37, 52, 100, 161, 203, 232]
p8_black = [1.37, 3.25, 5.5, 11, 16.4, 23.6, 53, 92, 125, 149]
p8_gray = [2.94, 8.8, 12.6, 22.8, 31.5, 44, 88, 151, 190, 210]


# ================= helpers =================
def cols(**kw):
    n = min(len(v) for v in kw.values())
    return pd.DataFrame({k: list(v)[:n] for k, v in kw.items()})


def ten(lg):
    return [10.0 ** v for v in lg]


def x_axis(vals, fmt):
    return alt.Axis(title="z", values=vals, format=fmt, ticks=False, domain=False, grid=False,
                    labelFlush=False, labelOverlap=False, labelPadding=6, titlePadding=4,
                    titleFontSize=13)


def hticks(vals, scale, x0, x1, color):
    return alt.Chart(pd.DataFrame({"v": vals})).mark_rule(color=color, strokeWidth=1).encode(
        y=alt.Y("v:Q", scale=scale, axis=None), x=alt.value(x0), x2=alt.value(x1))


def vticks(vals, X, y0, y1):
    return alt.Chart(pd.DataFrame({"v": vals})).mark_rule(color=FRAME, strokeWidth=1).encode(
        x=X("v"), y=alt.value(y0), y2=alt.value(y1))


def frb_panel(P):
    zmax = P["zmax"]
    xs = alt.Scale(domain=[0, zmax], nice=False, zero=False)
    xa = x_axis(P["xmaj"], P["xfmt"])
    dms = alt.Scale(domain=[0, P["dmmax"]], nice=False, zero=False)
    nes = alt.Scale(type="log", domain=NE_DOMAIN, nice=False)
    dm_axis = alt.Axis(orient="left", title=DM_TITLE, values=P["dmmaj"], ticks=False, domain=False,
                       grid=False, labelFlush=True, labelOverlap=False, labelPadding=4, titlePadding=11)
    ne_axis = alt.Axis(orient="right", title=NE_TITLE, values=NE_MAJOR, labelExpr=NE_LABEL, ticks=False,
                       domain=True, domainColor=RED, domainWidth=2, grid=False, labelFlush=True,
                       labelOverlap=False, labelColor=RED, titleColor=RED, labelPadding=4, titlePadding=8,
                       titleAngle=270, titleBaseline="top")

    def X(f="z"):
        return alt.X(f"{f}:Q", scale=xs, axis=xa)

    def YD(f, axis=None):
        return alt.Y(f"{f}:Q", scale=dms, axis=axis)

    def YN(f, axis=None):
        return alt.Y(f"{f}:Q", scale=nes, axis=axis)

    layers = []
    if P.get("band"):
        bz, blo, bhi = P["band"]
        layers.append(alt.Chart(cols(z=bz, lo=blo, hi=bhi)).mark_area(
            color=BAND, clip=True, interpolate=SMOOTH).encode(x=X(), y=YD("lo"), y2="hi:Q"))
    if P.get("lines"):
        lz, lines = P["lines"]
        rows = [{"z": zz, "dm": v, "id": i} for i, ln in enumerate(lines) for zz, v in zip(lz, ln)]
        layers.append(alt.Chart(pd.DataFrame(rows)).mark_line(
            color=GLINE, strokeWidth=1, clip=True, interpolate=SMOOTH).encode(x=X(), y=YD("dm"), detail="id:N"))
    if P.get("dotted"):
        layers.append(alt.Chart(pd.DataFrame({"dm": P["dotted"]})).mark_rule(
            color="#8a8a8a", strokeDash=[1, 3], strokeWidth=1).encode(y=YD("dm")))
    dash = pd.DataFrame({"z": [0.0, zmax], "dm": [0.0, DM_SLOPE * zmax]})
    layers.append(alt.Chart(dash).mark_line(color="black", strokeDash=[6, 4], strokeWidth=1.2,
                                            clip=True).encode(x=X(), y=YD("dm", dm_axis)))
    rz, rlg, ylo, yhi = P["red"]
    if ylo is not None:
        layers.append(alt.Chart(cols(z=rz, lo=ten(ylo), hi=ten(yhi))).mark_area(
            color=YELLOW, clip=True, interpolate=SMOOTH).encode(x=X(), y=YN("lo"), y2="hi:Q"))
    bz, bdm = P["black"]
    layers.append(alt.Chart(cols(z=bz, dm=bdm)).mark_line(
        color="black", strokeWidth=2.5, clip=True, interpolate=SMOOTH).encode(x=X(), y=YD("dm")))
    layers.append(alt.Chart(cols(z=rz, ne=ten(rlg))).mark_line(
        color=RED, strokeWidth=2.5, clip=True, interpolate=SMOOTH).encode(x=X(), y=YN("ne", ne_axis)))
    # inward IDL-style ticks
    layers.append(hticks(P["dmmaj"], dms, 0, TMAJ, FRAME))
    layers.append(hticks(P["dmmin"], dms, 0, TMIN, FRAME))
    layers.append(hticks(NE_MAJOR, nes, W, W - TMAJ, RED))
    layers.append(hticks(NE_MINOR, nes, W, W - TMIN, RED))
    layers.append(vticks(P["xmaj"], X, H, H - TMAJ))
    layers.append(vticks(P["xmin"], X, H, H - TMIN))
    layers.append(vticks(P["xmaj"], X, 0, TMAJ))
    layers.append(vticks(P["xmin"], X, 0, TMIN))
    layers.append(alt.Chart(pd.DataFrame({"t": [P["label"]]})).mark_text(
        align="left", baseline="middle", fontSize=12, font=FONT, color="black").encode(
        x=alt.value(P["lx"]), y=alt.value(P["ly"]), text="t:N"))
    return alt.layer(*layers).resolve_scale(y="independent").properties(width=W, height=H)


def dist_panel():
    xs = alt.Scale(type="log", domain=[0.002, 0.4], nice=False)
    ys = alt.Scale(type="log", domain=[0.5, 400], nice=False)
    xa = x_axis([0.01, 0.1], ".2f")
    ya = alt.Axis(orient="left", title=DM_TITLE8, values=[1, 10, 100], format="~g", ticks=False,
                  domain=False, grid=False, labelOverlap=False, labelPadding=4, titlePadding=11)

    def X(f="z"):
        return alt.X(f"{f}:Q", scale=xs, axis=xa)

    def Y(f, axis=None):
        return alt.Y(f"{f}:Q", scale=ys, axis=axis)

    d = cols(z=p8_z, ylo=p8_yel_lo, yhi=p8_yel_hi, olo=p8_org_lo, ohi=p8_org_hi, blk=p8_black, gry=p8_gray,
             dash=[DM_SLOPE * v for v in p8_z])
    base = alt.Chart(d)
    ymaj = [1, 10, 100]
    ymin = [0.6, 0.7, 0.8, 0.9, 2, 3, 4, 5, 6, 7, 8, 9, 20, 30, 40, 50, 60, 70, 80, 90, 200, 300]
    xmaj = [0.01, 0.1]
    xmin = [0.003, 0.004, 0.005, 0.006, 0.007, 0.008, 0.009, 0.02, 0.03, 0.04, 0.05, 0.06, 0.07, 0.08, 0.09,
            0.2, 0.3]
    layers = [
        base.mark_area(color=YELLOW, clip=True).encode(x=X(), y=Y("ylo", ya), y2="yhi:Q"),
        base.mark_area(color=ORANGE, clip=True).encode(x=X(), y=Y("olo"), y2="ohi:Q"),
        base.mark_line(color="#7f8790", strokeWidth=1.5, clip=True).encode(x=X(), y=Y("gry")),
        base.mark_line(color="black", strokeWidth=1.5, strokeDash=[6, 4], clip=True).encode(x=X(), y=Y("dash")),
        base.mark_line(color="black", strokeWidth=1.5, clip=True).encode(x=X(), y=Y("blk")),
        hticks(ymaj, ys, 0, TMAJ, FRAME), hticks(ymin, ys, 0, TMIN, FRAME),
        hticks(ymaj, ys, W, W - TMAJ, FRAME), hticks(ymin, ys, W, W - TMIN, FRAME),
        vticks(xmaj, X, H, H - TMAJ), vticks(xmin, X, H, H - TMIN),
        vticks(xmaj, X, 0, TMAJ), vticks(xmin, X, 0, TMIN),
    ]
    return alt.layer(*layers).resolve_scale(y="independent").properties(width=W, height=H)


X01_MAJ = [0, 0.02, 0.04, 0.06, 0.08, 0.1]
X01_MIN = [round(i * 0.005, 4) for i in range(21) if i % 4]


def dm_ticks(top, step, nmin):
    maj = list(range(0, top + 1, step))
    sub = step // nmin
    mnr = [v for v in range(0, top + 1, sub) if v % step]
    return maj, mnr


def std_panel(label, lx, ly, dmmax, red, black, band=None, lines=None, dotted=None,
              zmax=0.1, xmaj=X01_MAJ, xmin=X01_MIN, xfmt=".2f", dmstep=20, nmin=4):
    maj, mnr = dm_ticks(dmmax, dmstep, nmin)
    return frb_panel(dict(label=label, lx=lx, ly=ly, dmmax=dmmax, dmmaj=maj, dmmin=mnr, red=red,
                          black=black, band=band, lines=lines, dotted=dotted, zmax=zmax, xmaj=xmaj,
                          xmin=xmin, xfmt=xfmt))


c1 = std_panel("FRB180729.J1316+55", 23, 24, 140, (p1_z, p1_red, p1_ylo, p1_yhi), (p1_bz, p1_bdm),
               band=(p1_gz, p1_glo, p1_ghi), dotted=p1_dotted)
c2 = std_panel("FRB171020", 21, 24, 100, (p2_z, p2_red, p2_ylo, p2_yhi), (p2_bz, p2_bdm),
               band=(p2_gz, p2_glo, p2_ghi), lines=(p2_lz, p2_lines), dotted=p2_dotted)
c3 = std_panel("FRB171213", 24, 26, 100, (p3_z, p3_red, p3_ylo, p3_yhi), (p3_bz, p3_bdm),
               band=(p3_gz, p3_glo, p3_ghi), lines=(p3_lz, p3_lines), dotted=p3_dotted)
c4 = std_panel("FRB180810.J1159+83", 21, 26, 100, (p4_z, p4_red, p4_ylo, p4_yhi), (p4_bz, p4_bdm),
               band=(p4_gz, p4_glo, p4_ghi), lines=(p4_lz, p4_lines), dotted=p4_dotted)
c5 = std_panel("FRB180814.J0422+73", 24, 25, 120, (p5_z, p5_red, p5_ylo, p5_yhi), (p5_bz, p5_bdm),
               band=(p5_gz, p5_glo, p5_ghi), dotted=p5_dotted)
c6 = std_panel("FRB180924", 7, 25, 150, (p6_z, p6_red, None, None), (p6_bz, p6_bdm), zmax=0.32,
               xmaj=[0, 0.05, 0.1, 0.15, 0.2, 0.25, 0.3],
               xmin=[round(i * 0.01, 3) for i in range(33) if i % 5], dmstep=50, nmin=5)
c7 = std_panel("FRB190523", 4, 26, 400, (p7_z, p7_red, None, None), (p7_bz, p7_bdm), zmax=0.66,
               xmaj=[0, 0.1, 0.2, 0.3, 0.4, 0.5, 0.6],
               xmin=[round(i * 0.02, 3) for i in range(34) if i % 5], xfmt=".1f", dmstep=100, nmin=5)
c8 = dist_panel()

chart = alt.concat(c1, c2, c3, c4, c5, c6, c7, c8, columns=2,
                   spacing={"row": VGAP, "column": HGAP}, bounds="flush").properties(
    padding={"left": 2, "top": 0, "right": 2, "bottom": 2}
).configure_view(stroke=FRAME, strokeWidth=1.5).configure_axis(
    labelFont=FONT, titleFont=FONT, labelFontSize=15, titleFontSize=15, titleFontWeight="normal",
    labelColor="#111111", titleColor="#111111", grid=False
)

chart.save("out.html", embed_options={"renderer": "svg", "actions": False})
